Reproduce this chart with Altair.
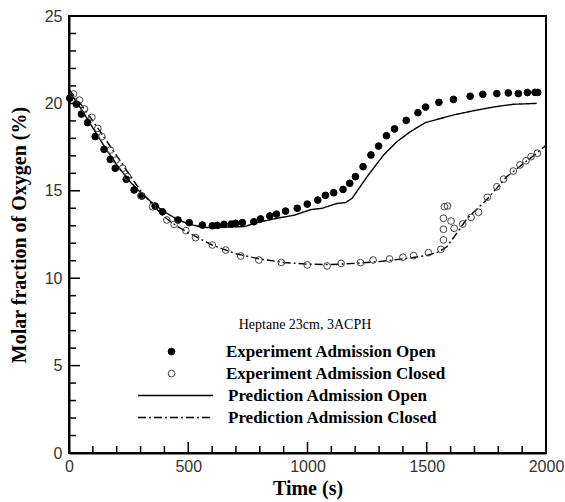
import altair as alt
import pandas as pd

# ---- data ----
exp_open_t = [3, 31, 52, 78, 110, 147, 173, 194, 240, 273, 305, 361, 392, 457, 504, 559, 601, 622,
              650, 681, 699, 727, 775, 803, 842, 870, 908, 957, 999, 1043, 1075, 1110, 1149, 1177,
              1201, 1233, 1266, 1298, 1331, 1365, 1414, 1463, 1495, 1551, 1612, 1682, 1735, 1794,
              1842, 1884, 1922, 1954, 1965]
exp_open_y = [20.3, 19.96, 19.39, 18.9, 18.1, 17.37, 16.8, 16.29, 15.66, 15.05, 14.7, 14.13, 13.8,
              13.33, 13.18, 13.04, 13.0, 13.02, 13.08, 13.1, 13.14, 13.18, 13.23, 13.39, 13.56,
              13.67, 13.84, 14.0, 14.24, 14.47, 14.74, 14.89, 15.08, 15.43, 15.81, 16.38, 17.05,
              17.56, 18.15, 18.54, 19.03, 19.47, 19.79, 20.06, 20.23, 20.41, 20.52, 20.56, 20.6,
              20.56, 20.62, 20.63, 20.63]

exp_closed_t = [19, 44, 65, 96, 121, 138, 173, 197, 225, 245, 301, 350, 410, 441, 490, 531, 601,
                657, 720, 796, 890, 999, 1082, 1141, 1222, 1275, 1344, 1400, 1445, 1507, 1559,
                1570, 1570, 1570, 1574, 1587, 1602, 1615, 1651, 1686, 1717, 1754, 1794, 1822,
                1863, 1891, 1916, 1937, 1964]
exp_closed_y = [20.54, 20.19, 19.68, 19.2, 18.57, 18.1, 17.33, 16.76, 16.29, 15.81, 14.72, 14.09,
                13.33, 13.08, 12.72, 12.32, 11.9, 11.61, 11.27, 11.04, 10.9, 10.76, 10.7, 10.85,
                10.89, 11.04, 11.1, 11.2, 11.29, 11.46, 11.65, 12.19, 12.8, 13.43, 14.09, 14.13,
                13.27, 12.85, 13.1, 13.48, 13.77, 14.63, 15.23, 15.67, 16.13, 16.48, 16.72,
                16.95, 17.15]

pred_open_t = [0, 50, 100, 150, 200, 250, 300, 350, 400, 450, 500, 566, 650, 734, 803, 880, 943,
               1013, 1061, 1124, 1159, 1187, 1250, 1319, 1375, 1431, 1494, 1556, 1612, 1696,
               1787, 1863, 1961]
pred_open_y = [20.7, 19.7, 18.6, 17.5, 16.5, 15.6, 14.9, 14.3, 13.8, 13.4, 13.1, 12.9, 12.92,
               12.95, 13.23, 13.45, 13.6, 13.92, 14.0, 14.28, 14.32, 14.57, 15.81, 17.05, 17.81,
               18.38, 18.9, 19.13, 19.34, 19.58, 19.81, 19.95, 20.0]

pred_closed_t = [0, 50, 100, 150, 200, 250, 300, 350, 400, 450, 500, 600, 700, 800, 900, 1000,
                 1100, 1200, 1300, 1400, 1500, 1550, 1584, 1626, 1668, 1752, 1835, 1900, 1947,
                 2000]
pred_closed_y = [20.8, 19.95, 19.0, 18.0, 17.0, 16.0, 15.0, 14.2, 13.5, 13.0, 12.6, 11.9, 11.4,
                 11.1, 10.9, 10.8, 10.78, 10.85, 10.95, 11.1, 11.3, 11.5, 11.8, 12.57, 13.4,
                 14.5, 15.8, 16.5, 17.0, 17.6]

exp_names = ["Experiment Admission Open", "Experiment Admission Closed"]
pred_names = ["Prediction Admission Open", "Prediction Admission Closed"]
annotation = "Heptane 23cm, 3ACPH"

x_major = [0, 500, 1000, 1500, 2000]
x_minor = [t for t in range(0, 2001, 100) if t % 500 != 0]
y_major = [0, 5, 10, 15, 20, 25]
y_minor = [v for v in range(0, 26) if v % 5 != 0]

# ---- tables ----
exp_df = pd.concat([
    pd.DataFrame({"t": exp_open_t, "y": exp_open_y, "series": exp_names[0]}),
    pd.DataFrame({"t": exp_closed_t, "y": exp_closed_y, "series": exp_names[1]}),
])
pred_df = pd.concat([
    pd.DataFrame({"t": pred_open_t, "y": pred_open_y, "line": pred_names[0]}),
    pd.DataFrame({"t": pred_closed_t, "y": pred_closed_y, "line": pred_names[1]}),
])

W, H = 477, 437
serif = "Liberation Serif"
sans = "Liberation Sans"

xscale = alt.Scale(domain=[0, 2000], nice=False)
yscale = alt.Scale(domain=[0, 25], nice=False)

x_enc = alt.X("t:Q", scale=xscale, axis=alt.Axis(
    values=x_major, format="d", title="Time (s)", ticks=False, grid=False, labelFlush=False,
    labelFont=sans, labelFontSize=16, labelColor="#333", labelPadding=5,
    titleFont=serif, titleFontSize=20, titleFontWeight="bold", titleColor="black",
    titlePadding=4, domainColor="black", domainWidth=2))
y_enc = alt.Y("y:Q", scale=yscale, axis=alt.Axis(
    values=y_major, format="d", title="Molar fraction of Oxygen (%)", ticks=False, grid=False,
    labelFlush=False, labelFont=sans, labelFontSize=16, labelColor="#333", labelPadding=7,
    titleFont=serif, titleFontSize=20, titleFontWeight="bold", titleColor="black",
    titlePadding=15, domainColor="black", domainWidth=2))

lines = alt.Chart(pred_df).mark_line(color="black", strokeWidth=1.4).encode(
    x=x_enc, y=y_enc,
    strokeDash=alt.StrokeDash("line:N", scale=alt.Scale(domain=pred_names, range=[[1, 0], [8, 3, 2, 3]]),
        legend=alt.Legend(title=None, orient="none", legendX=98, legendY=371,
            symbolType="M-5,0H5", symbolSize=225, symbolStrokeColor="black",
            symbolStrokeWidth=1.4, symbolFillColor="transparent", labelOffset=44,
            labelFont=serif, labelFontSize=17, labelFontWeight="bold", labelColor="black",
            labelLimit=0, rowPadding=4, padding=0)),
)

pt_legend = alt.Legend(title=annotation, orient="none", legendX=94, legendY=302,
    titleFont=serif, titleFontSize=14, titleFontWeight="normal", titleColor="black",
    titleAnchor="middle", titlePadding=11, symbolType="circle", symbolSize=45,
    symbolStrokeWidth=1, labelOffset=46, labelFont=serif, labelFontSize=17,
    labelFontWeight="bold", labelColor="black", labelLimit=0, rowPadding=4, padding=0)

points = alt.Chart(exp_df).mark_point(shape="circle", size=45, strokeWidth=1, opacity=1).encode(
    x="t:Q", y="y:Q",
    fill=alt.Fill("series:N", scale=alt.Scale(domain=exp_names, range=["black", "transparent"]),
                  legend=pt_legend),
    stroke=alt.Stroke("series:N", scale=alt.Scale(domain=exp_names, range=["black", "#444"]),
                      legend=pt_legend),
)

def x_ticks(vals, length_px):
    return alt.Chart(pd.DataFrame({"t": vals})).mark_rule(color="black", strokeWidth=1.5).encode(
        x="t:Q", y=alt.value(H), y2=alt.value(H - length_px))

def y_ticks(vals, length_px):
    return alt.Chart(pd.DataFrame({"y": vals})).mark_rule(color="black", strokeWidth=1.5).encode(
        y="y:Q", x=alt.value(0), x2=alt.value(length_px))

chart = alt.layer(
    lines, points,
    x_ticks(x_major, 11), x_ticks(x_minor, 7),
    y_ticks(y_major, 11), y_ticks(y_minor, 7),
).properties(
    width=W, height=H,
    autosize=alt.AutoSizeParams(type="none"),
    padding={"left": 69, "top": 16, "right": 19, "bottom": 49},
    background="white",
).configure_view(stroke="black", strokeWidth=2)

chart.save("out.html", embed_options={"renderer": "svg", "actions": False})
